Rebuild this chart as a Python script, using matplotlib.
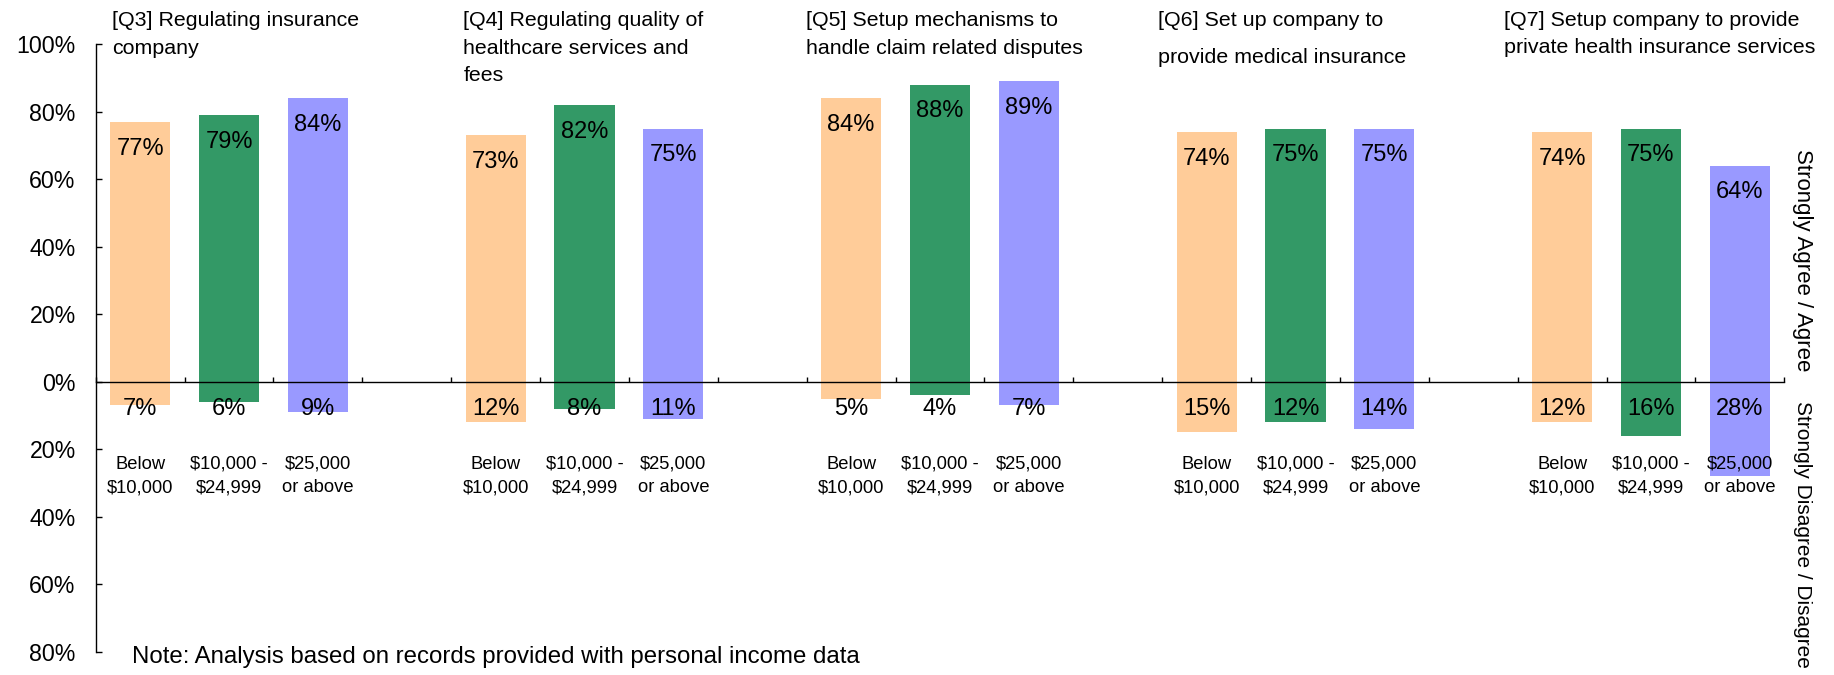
import matplotlib
matplotlib.use("Agg")
import matplotlib.pyplot as plt
from matplotlib.ticker import FuncFormatter, FixedLocator
import numpy as np

plt.rcParams['font.family'] = ['Liberation Sans', 'DejaVu Sans']

# data
titles = ['[Q3] Regulating insurance\ncompany',
          '[Q4] Regulating quality of\nhealthcare services and\nfees',
          '[Q5] Setup mechanisms to\nhandle claim related disputes',
          '[Q6] Set up company to\nprovide medical insurance',
          '[Q7] Setup company to provide\nprivate health insurance services']
brackets = ['Below\n$10,000', '$10,000 -\n$24,999', '$25,000\nor above']
agree_low = [77, 73, 84, 74, 74]
agree_mid = [79, 82, 88, 75, 75]
agree_high = [84, 75, 89, 75, 64]
disagree_low = [7, 12, 5, 15, 12]
disagree_mid = [6, 8, 4, 12, 16]
disagree_high = [9, 11, 7, 14, 28]
colors = ['#FFCC99', '#339966', '#9999FF']
note = 'Note: Analysis based on records provided with personal income data'

agree = [agree_low, agree_mid, agree_high]
disagree = [disagree_low, disagree_mid, disagree_high]

fig = plt.figure(figsize=(18.34, 6.75), dpi=100)
ax = fig.add_axes([0.0522, 0.0345, 0.9207, 0.8999])

n_groups = len(titles)
for k in range(3):
    xs = np.arange(n_groups) * 4 + k
    ax.bar(xs, agree[k], width=0.677, color=colors[k], zorder=2)
    ax.bar(xs, [-v for v in disagree[k]], width=0.677, color=colors[k], zorder=2)
    for x, a, d in zip(xs, agree[k], disagree[k]):
        ax.annotate('%d%%' % a, (x, a), xytext=(0, -23.5), textcoords='offset points',
                    ha='center', va='baseline', fontsize=17, zorder=3)
        ax.annotate('%d%%' % d, (x, 0), xytext=(0, -24.2), textcoords='offset points',
                    ha='center', va='baseline', fontsize=17, zorder=3)
        # va='baseline' on two lines anchors the last line
        ax.annotate(brackets[k], (x, 0), xytext=(0, -79.4), textcoords='offset points',
                    ha='center', va='baseline', fontsize=13.2, linespacing=1.5,
                    multialignment='center', zorder=3)

ax.set_xlim(-0.5, n_groups * 4 - 1.5)
ax.set_ylim(-80, 100)

ax.spines['top'].set_visible(False)
ax.spines['right'].set_visible(False)
ax.spines['bottom'].set_position(('data', 0))
ax.spines['bottom'].set_zorder(4)
for s in ['left', 'bottom']:
    ax.spines[s].set_linewidth(1.0)
    ax.spines[s].set_color('#000000')

ax.set_yticks(np.arange(-80, 101, 20))
ax.yaxis.set_major_formatter(FuncFormatter(lambda v, p: '%d%%' % abs(v)))
ax.tick_params(axis='y', direction='in', length=4, width=1, pad=14.4, labelsize=16.7)

ax.xaxis.set_major_locator(FixedLocator(np.arange(-0.5, n_groups * 4 - 1, 1.0)))
ax.set_xticklabels([])
ax.tick_params(axis='x', direction='in', length=3.6, width=1)

# group titles
title_x = [111.7, 463.3, 805.6, 1157.7, 1504.3]
title_ls = [1.58, 1.58, 1.58, 2.2, 1.55]
for t, px, ls in zip(titles, title_x, title_ls):
    fig.text(px / 1834, 1 - 10.9 / 675, t, fontsize=15.4, ha='left', va='top',
             linespacing=ls)

fig.text(0.983, 1 - 149 / 675, 'Strongly Agree / Agree', rotation=270,
         ha='center', va='top', fontsize=16)
fig.text(0.983, 1 - 401 / 675, 'Strongly Disagree / Disagree', rotation=270,
         ha='center', va='top', fontsize=15)

fig.text(131.7 / 1834, 1 - 656.7 / 675, note, fontsize=17.3, ha='left', va='center')

fig.savefig('out.png', dpi=100)
